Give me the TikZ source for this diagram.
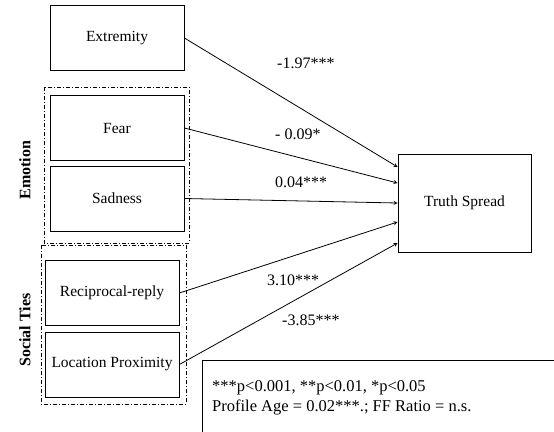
\documentclass[tikz,border=0pt]{standalone}
\usepackage{fontspec}
\setmainfont{Liberation Serif}
\usetikzlibrary{arrows,positioning}

\begin{document}
\begin{tikzpicture}[x=1pt,y=-1pt,
  var/.style={draw, thick, minimum width=134pt, minimum height=65pt, inner sep=0pt, font=\fontsize{15.5}{18}\selectfont},
  group/.style={draw, dash pattern=on 4pt off 2pt on 1pt off 2pt},
  coef/.style={font=\fontsize{16}{18}\selectfont, inner sep=0pt},
  path/.style={thick, -stealth}]
\useasboundingbox (0,0) rectangle (554,431);
% predictors
\node [var] (ext) at (117,38) {Extremity};
\node [var] (fear) at (117,128) {Fear};
\node [var] (sad) at (117,198.5) {Sadness};
\node [var] (rec) at (112,293) {Reciprocal-reply};
\node [var] (loc) at (112,364.5) {Location Proximity};
% groups
\draw [group] (44,87) rectangle (189,243);
\draw [group] (41,245) rectangle (186,404);
\node [rotate=90, font=\fontsize{16}{18}\selectfont\bfseries] (emo) at (25,170) {Emotion};
\node [rotate=90, font=\fontsize{16}{18}\selectfont\bfseries] (soc) at (25,330) {Social Ties};
% outcome
\node [var, minimum width=133pt, minimum height=98pt] (truth) at (464.5,203) {Truth Spread};
% paths
\draw [path] (ext.east) -- ([yshift=36pt]truth.west);
\draw [path] (fear.east) -- ([yshift=20pt]truth.west);
\draw [path] (sad.east) -- ([yshift=0pt]truth.west);
\draw [path] (rec.east) -- ([yshift=-19pt]truth.west);
\draw [path] (loc.east) -- ([yshift=-40pt]truth.west);
\node [coef, anchor=west] (c1) at (277,63) {-1.97***};
\node [coef, anchor=west] (c2) at (275,134) {- 0.09*};
\node [coef, anchor=west] (c3) at (275,182) {0.04***};
\node [coef, anchor=west] (c4) at (267,280) {3.10***};
\node [coef, anchor=west] (c5) at (282,320) {-3.85***};
% note
\draw [thick] (202,440) -- (202,360) -- (556,360);
\node [anchor=west, align=left, inner sep=0pt, font=\fontsize{16.5}{20}\selectfont] (note) at (212,398)
  {***p<0.001, **p<0.01, *p<0.05\\Profile Age = 0.02***.; FF Ratio = n.s.};
\end{tikzpicture}
\end{document}
